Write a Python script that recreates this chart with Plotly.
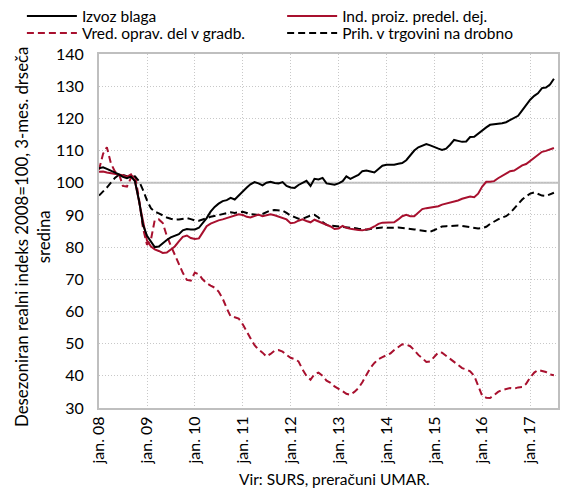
import plotly.graph_objects as go
import pandas as pd

months = pd.date_range("2008-01-01", periods=115, freq="MS").strftime("%Y-%m-%d").tolist()

izvoz_blaga = [
    104.5, 104.8, 104.3, 103.8, 103.2, 102.6, 101.8, 101.4, 101.9, 100.5, 94.5, 87.0,
    83.5, 81.5, 80.0, 80.2, 81.3, 82.2, 83.0, 83.5, 84.0, 85.2, 85.6, 85.5,
    85.5, 86.0, 87.5, 89.0, 91.0, 92.5, 93.5, 94.3, 94.6, 95.3, 94.8, 96.0,
    97.5, 98.5, 99.5, 100.2, 99.8, 99.2, 100.0, 100.3, 99.9, 99.8, 100.2, 99.0,
    98.5, 98.4, 99.3, 100.0, 100.6, 99.0, 101.2, 101.0, 101.5, 99.8, 99.6, 99.4,
    99.8, 100.5, 102.0, 101.2, 101.8, 102.4, 103.6, 103.8, 103.5, 103.2, 104.3, 105.3,
    105.6, 105.5, 105.6, 105.9, 106.1, 107.0, 108.5, 110.0, 111.0, 111.6, 112.0, 111.6,
    111.0, 110.6, 110.2, 110.6, 111.8, 113.3, 113.0, 112.7, 112.8, 114.2, 114.3, 115.3,
    116.4, 117.2, 118.0, 118.1, 118.3, 118.5, 118.8, 119.5, 120.3, 120.8, 122.5, 124.3,
    125.8, 127.0, 127.8, 129.4, 129.6, 130.5, 132.3,
]

ind_proiz = [
    103.4, 103.5, 103.2, 103.0, 102.8, 102.4, 102.3, 101.8, 102.6, 100.5, 94.0, 87.5,
    82.0, 80.2, 79.3, 78.8, 78.2, 78.3, 79.2, 80.2, 81.8, 83.2, 83.6, 82.8,
    82.5, 82.7, 84.5, 86.5, 87.3, 87.9, 88.3, 88.6, 89.0, 89.4, 89.8, 90.2,
    90.0, 89.4, 89.2, 89.6, 90.1, 89.6, 89.9, 90.2, 89.9, 89.5, 88.9, 88.6,
    87.4, 87.6, 88.2, 88.6, 88.1, 87.7, 88.5, 88.0, 87.5, 86.8, 86.4, 85.6,
    85.8, 86.6, 86.0, 85.7, 85.4, 85.3, 85.2, 85.4, 85.8, 86.4, 87.2, 87.6,
    87.6, 87.5, 87.7, 88.6, 89.6, 90.0, 89.6, 89.6, 90.8, 91.8, 92.1, 92.3,
    92.5, 92.7, 93.2, 93.5, 93.9, 94.1, 94.5, 95.0, 95.4, 95.7, 95.5, 96.6,
    98.8, 100.3, 100.3, 100.5, 101.4, 102.2, 103.0, 103.6, 103.8, 104.6, 105.4, 105.8,
    106.8, 107.6, 108.6, 109.6, 109.9, 110.3, 110.8,
]

vred_gradb = [
    104.0, 109.0, 111.0, 106.0, 103.5, 102.8, 99.0, 98.8, 101.5, 102.5, 95.0, 86.0,
    80.7, 82.5, 88.4, 88.6, 87.5, 83.5, 80.5, 77.5, 75.0, 72.0, 69.8, 69.6,
    72.1, 71.5, 70.0, 68.8, 68.0, 67.4, 66.2, 64.0, 61.0, 58.4, 58.2, 57.8,
    56.0, 53.5, 51.7, 49.5, 48.2, 47.2, 46.0, 46.8, 47.8, 48.0, 47.5, 46.5,
    45.6, 45.2, 44.5, 42.0, 40.0, 38.8, 40.5, 41.0, 40.0, 38.5, 37.8, 36.7,
    36.0, 35.2, 34.4, 34.1, 35.0, 36.2, 38.0, 40.5, 42.5, 44.0, 45.2, 45.8,
    46.3, 47.0, 48.0, 49.0, 49.8, 49.7, 49.2, 48.0, 46.5, 45.5, 44.3, 44.5,
    46.0, 47.3, 47.2, 46.2, 45.2, 44.2, 43.2, 42.4, 42.0, 41.4, 40.0, 37.0,
    33.8, 33.2, 33.1, 34.0, 35.0, 35.6, 35.8, 36.2, 36.0, 36.4, 36.5, 37.5,
    39.5, 41.0, 41.8, 41.6, 41.2, 40.4, 40.2,
]

prih_trgovina = [
    96.0, 97.2, 98.5, 100.0, 101.5, 102.5, 102.4, 102.0, 101.8, 102.0, 100.5, 97.8,
    94.5, 92.0, 91.0, 90.5, 89.8, 89.2, 88.8, 88.5, 88.6, 88.8, 89.0, 88.7,
    88.3, 88.2, 88.5, 89.0, 89.4, 89.7, 90.0, 90.2, 90.5, 90.8, 90.6, 90.9,
    91.0, 90.6, 90.2, 90.1, 90.0, 90.3, 90.8, 91.4, 91.5, 91.5, 91.3, 90.6,
    89.8, 89.3, 88.8, 88.8, 89.3, 89.8, 90.0, 89.2, 87.8, 86.9, 86.7, 86.6,
    86.4, 86.3, 86.2, 86.1, 85.9, 85.7, 85.5, 85.4, 85.6, 85.8, 86.0, 86.1,
    86.0, 85.9, 86.0, 86.1, 86.0, 85.8, 85.6, 85.5, 85.3, 85.1, 84.9, 84.8,
    85.3, 85.9, 86.4, 86.5, 86.6, 86.7, 86.7, 86.6, 86.4, 86.1, 85.9, 85.8,
    85.9, 86.3, 87.2, 88.0, 88.6, 89.2, 89.6, 90.6, 92.0, 93.5, 94.8, 95.8,
    96.6, 97.0, 96.5, 96.0, 95.9, 96.4, 96.9,
]

tick_dates = [f"{y}-01-01" for y in range(2008, 2018)]
tick_labels = [f"jan. {str(y)[2:]}" for y in range(2008, 2018)]
y_ticks = list(range(30, 141, 10))

RED = "#A8102E"
BLACK = "#000000"
FONT = "Lato"
DASH = "7px,4px"

fig = go.Figure()
fig.add_trace(go.Scatter(x=months, y=vred_gradb, name="Vred. oprav. del v gradb.", mode="lines",
                         line=dict(color=RED, width=2, dash=DASH), legend="legend3"))
fig.add_trace(go.Scatter(x=months, y=prih_trgovina, name="Prih. v trgovini na drobno", mode="lines",
                         line=dict(color=BLACK, width=2, dash=DASH), legend="legend4"))
fig.add_trace(go.Scatter(x=months, y=ind_proiz, name="Ind. proiz. predel. dej.", mode="lines",
                         line=dict(color=RED, width=2), legend="legend2"))
fig.add_trace(go.Scatter(x=months, y=izvoz_blaga, name="Izvoz blaga", mode="lines",
                         line=dict(color=BLACK, width=2), legend="legend"))

fig.add_shape(type="line", xref="paper", x0=0, x1=1, yref="y", y0=100, y1=100,
              line=dict(color="#BFBFBF", width=2), layer="below")

def leg(x, y):
    return dict(x=x, y=y, orientation="h", yanchor="top", xanchor="left", bgcolor="rgba(0,0,0,0)",
                font=dict(family=FONT, size=15.5, color="#000"), itemwidth=50, itemclick=False)

COL1, COL2 = -0.168, 0.399
ROW1, ROW2 = 1.1542, 1.1062

fig.update_layout(
    width=568, height=491,
    margin=dict(l=99, r=10, t=54, b=83, autoexpand=False),
    paper_bgcolor="white", plot_bgcolor="white",
    font=dict(family=FONT, size=15, color="#000"),
    showlegend=True,
    legend=leg(COL1, ROW1),
    legend2=leg(COL2, ROW1),
    legend3=leg(COL1, ROW2),
    legend4=leg(COL2, ROW2),
    xaxis=dict(
        type="date", range=["2008-01-01", "2017-08-01"],
        tickvals=tick_dates, ticktext=tick_labels, tickangle=-90,
        showgrid=True, gridcolor="#C8C8C8", griddash="1px,2px", gridwidth=1,
        showline=True, linecolor="#BFBFBF", linewidth=2, mirror=True,
        ticks="", tickfont=dict(family=FONT, size=16), automargin=False,
    ),
    yaxis=dict(
        range=[30, 140], tickvals=y_ticks,
        showgrid=True, gridcolor="#C8C8C8", griddash="1px,2px", gridwidth=1,
        showline=True, linecolor="#BFBFBF", linewidth=2, mirror=True,
        ticks="", ticklabelstandoff=10, tickfont=dict(family=FONT, size=16),
        zeroline=False, automargin=False,
    ),
    annotations=[
        dict(text="Desezoniran realni indeks 2008=100, 3-mes. drseča<br>sredina",
             xref="paper", yref="paper", x=-0.146, y=0.483, xanchor="center", yanchor="middle",
             textangle=-90, showarrow=False, font=dict(family=FONT, size=16.8)),
        dict(text="Vir: SURS, preračuni UMAR.", xref="paper", yref="paper",
             x=0.514, y=-0.2006, xanchor="center", yanchor="middle", showarrow=False,
             font=dict(family=FONT, size=15.5)),
    ],
)

fig.write_html("out.html", config={"displayModeBar": False},
               post_script="document.body.style.margin='0';document.body.style.overflow='hidden';")
